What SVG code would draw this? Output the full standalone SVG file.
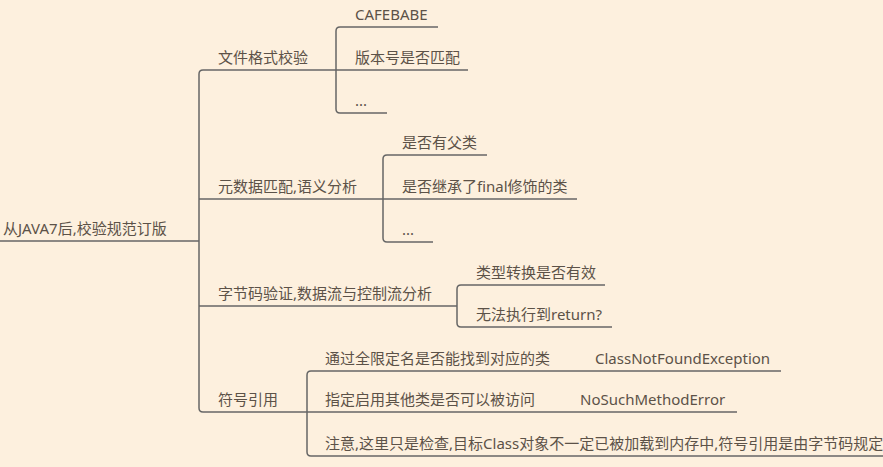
<svg xmlns="http://www.w3.org/2000/svg" width="883" height="467" viewBox="0 0 883 467">
<style>
.t{font-family:"Noto Sans","Noto Sans CJK SC",sans-serif;font-size:15px;fill:#5c5248}
.u{stroke:#666;stroke-width:1.5;fill:none}
.c{stroke:#666;stroke-width:1.5;fill:none}
</style>
<rect width="883" height="467" fill="#fdf0de"/>
<g id="connectors">
<path class="c" d="M199,241 V74 Q199,70 203,70"/>
<path class="c" d="M199,241 V408 Q199,412 203,412"/>
<path class="c" d="M336,70 V31 Q336,27 340,27"/>
<path class="c" d="M336,70 V109 Q336,113 340,113"/>
<path class="c" d="M383,199 V159 Q383,155 387,155"/>
<path class="c" d="M383,199 V238 Q383,242 387,242"/>
<path class="c" d="M457,306 V289 Q457,285 461,285"/>
<path class="c" d="M457,306 V323 Q457,327 461,327"/>
<path class="c" d="M307,412 V375 Q307,371 311,371"/>
<path class="c" d="M307,412 V452 Q307,456 311,456"/>
</g>
<g id="root"><text class="t" x="3" y="234">从JAVA7后,校验规范订版</text><path class="u" d="M0,241 H199"/></g>
<g id="n1"><text class="t" x="218" y="63">文件格式校验</text><path class="u" d="M203,70 H336"/></g>
<g id="n1a"><text class="t" x="355" y="20">CAFEBABE</text><path class="u" d="M340,27 H438"/></g>
<g id="n1b"><text class="t" x="355" y="63">版本号是否匹配</text><path class="u" d="M336,70 H468"/></g>
<g id="n1c"><text class="t" x="355" y="106">...</text><path class="u" d="M340,113 H387"/></g>
<g id="n2"><text class="t" x="218" y="192">元数据匹配,语义分析</text><path class="u" d="M199,199 H383"/></g>
<g id="n2a"><text class="t" x="402" y="148">是否有父类</text><path class="u" d="M387,155 H487"/></g>
<g id="n2b"><text class="t" x="402" y="192">是否继承了final修饰的类</text><path class="u" d="M383,199 H577"/></g>
<g id="n2c"><text class="t" x="402" y="235">...</text><path class="u" d="M387,242 H433"/></g>
<g id="n3"><text class="t" x="218" y="299">字节码验证,数据流与控制流分析</text><path class="u" d="M199,306 H457"/></g>
<g id="n3a"><text class="t" x="476" y="278">类型转换是否有效</text><path class="u" d="M461,285 H605"/></g>
<g id="n3b"><text class="t" x="476" y="320">无法执行到return?</text><path class="u" d="M461,327 H612"/></g>
<g id="n4"><text class="t" x="218" y="405">符号引用</text><path class="u" d="M203,412 H307"/></g>
<g id="n4a"><text class="t" x="325" y="364">通过全限定名是否能找到对应的类</text><path class="u" d="M311,371 H560"/></g>
<g id="n4a1"><text class="t" x="595" y="364">ClassNotFoundException</text><path class="u" d="M560,371 H781"/></g>
<g id="n4b"><text class="t" x="325" y="405">指定启用其他类是否可以被访问</text><path class="u" d="M307,412 H562"/></g>
<g id="n4b1"><text class="t" x="580" y="405">NoSuchMethodError</text><path class="u" d="M562,412 H737"/></g>
<g id="n4c"><text class="t" x="325" y="449">注意,这里只是检查,目标Class对象不一定已被加载到内存中,符号引用是由字节码规定</text><path class="u" d="M311,456 H883"/></g>
</svg>
